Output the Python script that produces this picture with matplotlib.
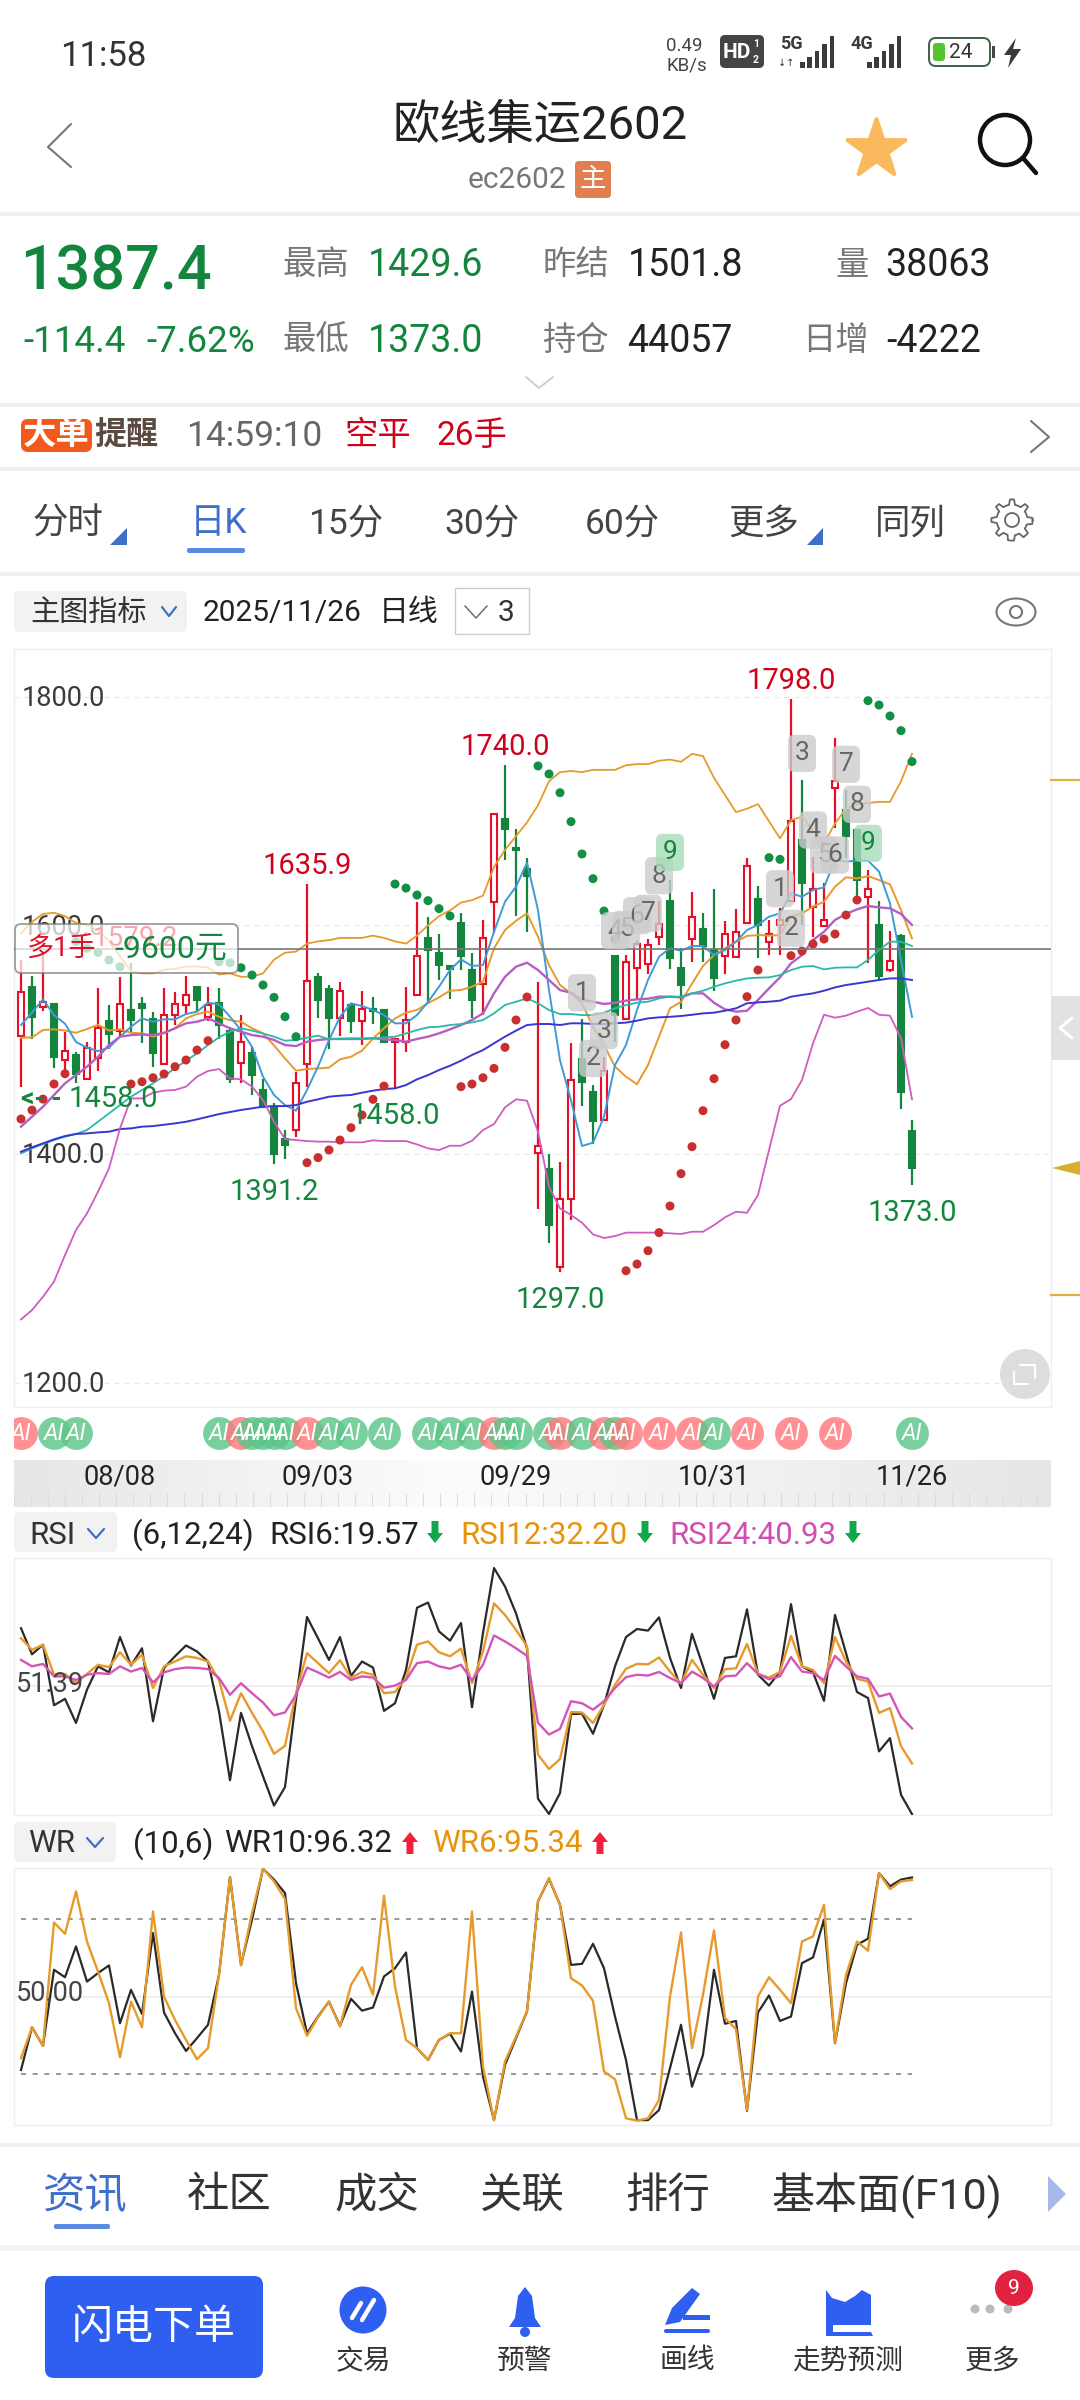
import matplotlib
matplotlib.use("Agg")

import matplotlib.pyplot as plt
import numpy as np
from matplotlib.patches import Circle, Ellipse, FancyBboxPatch, Polygon, Rectangle

plt.rcParams["font.family"] = ["Roboto", "Noto Sans CJK SC", "DejaVu Sans"]


# ==================================================
# DATA
# ==================================================

opens = [
    1503, 1546, 1529, 1531, 1482, 1487, 1466, 1484, 1516, 1508,
    1526, 1531, 1518, 1479, 1522, 1530, 1546, 1520, 1532, 1508,
    1480, 1488, 1456, 1441, 1413, 1421, 1479, 1555, 1544, 1519,
    1530, 1516, 1527, 1526, 1498, 1498, 1539, 1589, 1576, 1564,
    1602, 1561, 1549, 1620, 1693, 1668, 1649, 1401, 1387, 1301,
    1361, 1483, 1454, 1430, 1573, 1518, 1563, 1566, 1590, 1621,
    1563, 1588, 1597, 1578, 1573, 1572, 1602, 1623, 1585, 1600,
    1621, 1675, 1616, 1599, 1720, 1701, 1683, 1625, 1600, 1561,
    1591, 1420,
]
highs = [
    1570, 1556, 1575, 1531, 1507, 1489, 1498, 1545, 1530, 1555,
    1567, 1537, 1524, 1545, 1542, 1556, 1546, 1546, 1545, 1511,
    1522, 1494, 1466, 1445, 1421, 1472, 1635.9, 1558, 1548, 1550,
    1532, 1543, 1537, 1526, 1501, 1546, 1620, 1607, 1592, 1565,
    1611, 1576, 1605, 1698, 1740, 1684, 1659, 1550, 1400, 1393,
    1497, 1518, 1460, 1485, 1573, 1574, 1586, 1588, 1621, 1640,
    1580, 1629, 1611, 1632, 1604, 1614, 1659, 1634, 1605, 1615,
    1798, 1727, 1660, 1637, 1764, 1718, 1683, 1648, 1621, 1595,
    1592, 1429.6,
]
lows = [
    1459, 1501, 1525, 1475, 1470, 1462, 1465, 1473, 1492, 1503,
    1507, 1497, 1476, 1478, 1513, 1522, 1524, 1516, 1501, 1462,
    1462, 1452, 1440, 1391.2, 1396, 1415, 1459, 1519, 1492, 1503,
    1506, 1495, 1514, 1497, 1458, 1489, 1538, 1533, 1552, 1536,
    1561, 1519, 1522, 1593, 1657, 1608, 1594, 1352, 1322, 1297,
    1342, 1442, 1409, 1430, 1498, 1518, 1536, 1557, 1583, 1562,
    1527, 1568, 1568, 1543, 1557, 1572, 1601, 1571, 1574, 1574,
    1620.7, 1600, 1590, 1599, 1685, 1659, 1624, 1567, 1551, 1559,
    1439, 1373,
]
closes = [
    1542, 1520, 1533, 1485, 1490, 1470, 1493, 1510, 1505, 1531,
    1517, 1528, 1488, 1522, 1531, 1539, 1535, 1530, 1513, 1466,
    1498, 1469, 1441, 1400, 1408, 1462, 1551, 1535, 1519, 1543,
    1516, 1527, 1525, 1498, 1500.5, 1517, 1573, 1578, 1565, 1562,
    1573, 1535, 1589, 1697, 1684, 1666, 1643, 1407, 1338, 1361,
    1465, 1463, 1429, 1473, 1522, 1568, 1584, 1583, 1601, 1571,
    1548, 1607, 1582, 1554, 1592, 1594, 1652, 1600, 1592, 1605,
    1691, 1637, 1632, 1605, 1726, 1678, 1640, 1632, 1556, 1569,
    1454, 1387.4,
]

band_upper = [
    1593, 1603, 1610, 1611, 1608, 1602, 1600, 1596, 1586, 1573,
    1560, 1558, 1558, 1561, 1562, 1564, 1564, 1563, 1557, 1558,
    1555, 1555, 1558, 1570, 1576, 1577, 1584, 1586, 1587, 1589,
    1589, 1589, 1591, 1589, 1586, 1584, 1591, 1600, 1608, 1613,
    1620, 1622, 1626, 1651, 1666, 1678, 1690, 1705, 1726, 1734,
    1735, 1734, 1736, 1736, 1736, 1740, 1741, 1741, 1744, 1745,
    1743, 1750, 1748, 1729, 1714, 1699, 1702, 1706, 1691, 1676,
    1692, 1695, 1683, 1672, 1689, 1702, 1706, 1707, 1708, 1708,
    1726, 1750,
]
ma_orange = [
    1501.7, 1502, 1508.4, 1509, 1508, 1506, 1509.3, 1513, 1508, 1509,
    1506, 1505.5, 1502.6, 1505.5, 1510, 1518.6, 1522.4, 1524.5, 1520, 1517,
    1515.7, 1510, 1505.5, 1495, 1483.6, 1472.9, 1474.3, 1474.9, 1475.5, 1482.8,
    1485, 1490.4, 1501, 1510, 1518.6, 1523.6, 1526, 1531.8, 1537, 1542.8,
    1543.4, 1546.3, 1550.7, 1579.9, 1595.9, 1604, 1610.5, 1590, 1565.3, 1547.8,
    1540.5, 1531.8, 1511.3, 1495.3, 1476.4, 1467.6, 1461, 1477.8, 1502.6, 1527.4,
    1533, 1549, 1564.4, 1574, 1579.9, 1585.7, 1590.7, 1591.5, 1591, 1591.5,
    1607.6, 1610.5, 1616.3, 1620.7, 1633.8, 1642, 1641, 1643, 1639.6, 1635.8,
    1613.4, 1588.6,
]
ma_blue = [
    1512.8, 1523.6, 1535.3, 1521.5, 1514, 1498, 1493, 1490, 1493, 1502.6,
    1511.3, 1518.6, 1515.7, 1517.8, 1517.8, 1522.4, 1524.5, 1532.3, 1530.9, 1520,
    1508.4, 1493.9, 1467.6, 1451.6, 1442.8, 1437.9, 1456, 1476.4, 1499.7, 1520,
    1531.8, 1529.4, 1526, 1521.5, 1514.3, 1514.3, 1521.5, 1533, 1546.3, 1560.9,
    1570.2, 1564.4, 1565.3, 1594.4, 1620.7, 1633.8, 1654.8, 1613.4, 1543.4, 1482,
    1447, 1407, 1409.9, 1432.6, 1477.8, 1495.3, 1526, 1552.2, 1572.6, 1579.9,
    1577.8, 1581.9, 1581.9, 1574, 1578.4, 1585.7, 1595.9, 1600.3, 1607.6, 1610.5,
    1628, 1625, 1630.9, 1633.2, 1657.1, 1655.7, 1656.6, 1656.6, 1647, 1619.2,
    1569.7, 1520,
]
band_mid = [
    1423.9, 1432.6, 1441.4, 1451.6, 1461.8, 1469, 1476.4, 1485, 1495.3, 1502.6,
    1504, 1504.6, 1504, 1506, 1509.9, 1514.3, 1515.7, 1518.6, 1514.3, 1509.9,
    1507, 1504, 1502.6, 1499.7, 1495.3, 1494.4, 1498.2, 1499.7, 1500.6, 1500.6,
    1500.6, 1500.6, 1501.2, 1500.3, 1499.7, 1498.2, 1500.6, 1502.6, 1505.5, 1509,
    1512.8, 1517.2, 1523, 1540.5, 1555, 1563.8, 1567.3, 1560.9, 1552.2, 1543.4,
    1541, 1534.7, 1533.2, 1531.2, 1532.3, 1534.1, 1535.3, 1535.8, 1537.6, 1537.6,
    1537, 1540.5, 1540.5, 1532.3, 1526.5, 1524.5, 1525.3, 1534.7, 1544.9, 1554.5,
    1566.7, 1574, 1587.2, 1594.4, 1604.7, 1609.9, 1614, 1616.9, 1615.7, 1614.9,
    1609.9, 1600.3,
]
ma_teal = [
    1400.5, 1404.9, 1408.7, 1412.2, 1415.1, 1417.5, 1421, 1428.2, 1435.5, 1442.8,
    1450.1, 1455.9, 1461.8, 1468.2, 1474.9, 1481.6, 1488, 1495.3, 1502, 1507,
    1509.9, 1507.9, 1505.5, 1502.6, 1499.1, 1499.7, 1501.7, 1503.5, 1500.3, 1500.9,
    1501.2, 1501.2, 1501.2, 1502, 1502.6, 1505.5, 1508.4, 1510.8, 1511.3, 1512.8,
    1513.7, 1515.1, 1517.2, 1523, 1530.3, 1533.2, 1536.1, 1531.8, 1525.9, 1522.4,
    1522.4, 1521.5, 1521.5, 1523.6, 1527.4, 1530.3, 1532.3, 1533.2, 1536.1, 1537.6,
    1537.6, 1540.5, 1542.8, 1546.3, 1549.2, 1551.6, 1553.6, 1554.2, 1554.5, 1556.5,
    1560.9, 1563.8, 1564.4, 1561.5, 1562.9, 1563.2, 1563.2, 1569.7, 1578.4, 1585.7,
    1585.7, 1581.9,
]
ma_navy = [
    1402, 1405.8, 1409.3, 1412.8, 1415.7, 1417.5, 1418, 1418.9, 1419.5, 1421.8,
    1422.4, 1423.9, 1424.4, 1425.6, 1426.8, 1428.2, 1430.3, 1432.6, 1434.9, 1436.7,
    1438.5, 1439.9, 1441.4, 1441.9, 1441.9, 1442.8, 1445.7, 1447.8, 1450.1, 1451,
    1451.6, 1453.6, 1455.4, 1456.8, 1457.4, 1460.3, 1465.3, 1469, 1473.4, 1477.2,
    1481.6, 1486.6, 1490.9, 1496.8, 1502.6, 1507.9, 1512.8, 1513.7, 1513.7, 1512.8,
    1514.3, 1514.3, 1513.7, 1513.7, 1514.3, 1514.9, 1516.6, 1518.6, 1519.5, 1520,
    1520.7, 1521.8, 1523, 1523.6, 1525.3, 1527.4, 1531.8, 1532.6, 1533.2, 1534.1,
    1537.6, 1539.1, 1540.5, 1542.8, 1545.7, 1547.8, 1549.2, 1550.7, 1552.2, 1553.6,
    1553.6, 1552.2,
]
band_lower = [
    1255.3, 1263.5, 1275.2, 1288.3, 1311.6, 1333.5, 1348, 1367, 1387.4, 1422.4,
    1448.6, 1448.6, 1453.6, 1455.4, 1456, 1458.9, 1467.6, 1472.6, 1474.3, 1466.1,
    1465.3, 1458.9, 1447.2, 1428.2, 1413.1, 1412.2, 1411.3, 1410.8, 1410.8, 1410.2,
    1410.2, 1410.2, 1411.9, 1411.3, 1411.3, 1411.3, 1408.4, 1404.9, 1403.4, 1407.2,
    1407.2, 1411.6, 1420.9, 1426.2, 1440.8, 1447.8, 1446.6, 1419.5, 1371.4, 1352.4,
    1346.6, 1339.9, 1329.7, 1326.5, 1328.2, 1331.2, 1331.2, 1331.2, 1331.2, 1330.6,
    1330, 1332, 1332, 1337.8, 1344.6, 1349.5, 1348.6, 1364.1, 1403.4, 1442.2,
    1448, 1464.7, 1496.8, 1521.8, 1519.2, 1521, 1524.5, 1527.7, 1521.8, 1521,
    1501.2, 1447.8,
]
sar = [
    1430.6, 1438.4, 1448, 1461.2, 1470.2, 1585.7, 1579.9, 1576.4, 1569.7, 1563.8,
    1461.2, 1463.2, 1466.7, 1470, 1476.4, 1482.2, 1490.9, 1499.1, 1568.2, 1567.3,
    1562.9, 1556.5, 1547.8, 1537, 1520.1, 1502.6, 1392.4, 1396.8, 1403.5, 1412.2,
    1423, 1434.1, 1447.8, 1459.4, 1636.1, 1632.6, 1626.5, 1621.6, 1614.6, 1608.2,
    1458.9, 1461.2, 1466.7, 1474.9, 1493.3, 1517.2, 1537.3, 1739.4, 1732.4, 1716,
    1690.7, 1662.4, 1640.8, 1612.5, 1587.8, 1297.9, 1303.7, 1315.4, 1331.2, 1354.5,
    1382.8, 1406.4, 1437.9, 1465.9, 1495.6, 1517.2, 1537.6, 1560.9, 1659.2, 1657.7,
    1573.5, 1577.5, 1583.7, 1588, 1592.4, 1609, 1622.2, 1796.5, 1792.7, 1783.1,
    1770.3, 1743.2,
]

rsi6 = [
    65.9, 59.4, 61.8, 46.7, 48.3, 42.3, 50.6, 56.4, 54.9, 63.7,
    56.6, 60.9, 42.7, 56, 58.9, 61.6, 60.1, 57.6, 45.2, 28,
    44.8, 36.5, 29, 21.7, 26.3, 48.1, 68.7, 63.4, 58, 63.7,
    54, 57.6, 56.1, 45.3, 47.2, 55.5, 71, 72.3, 65.1, 62.8,
    67.2, 46.2, 64.7, 80.9, 76.3, 69.6, 60.9, 23.4, 19.6, 24.8,
    44.5, 44.6, 39.6, 46.8, 56.4, 63.7, 65.7, 65.3, 68.6, 58.5,
    51, 64.5, 56.4, 48.3, 58.5, 58.9, 70.6, 54.3, 51.6, 55.1,
    71.9, 56.4, 54.9, 47.8, 69.2, 59.7, 50, 48.5, 35.2, 38.5,
    24.4, 19.57,
]
rsi12 = [
    63.4, 60.5, 61.8, 54.3, 54.5, 52.2, 54.5, 56.8, 56.2, 59.9,
    56.8, 59.3, 51, 56.4, 57.6, 58.9, 58.5, 57.6, 53, 42.8,
    49.7, 44.8, 40.2, 34.6, 36.6, 49.7, 59.7, 57.2, 54.7, 57.9,
    53.5, 55, 54.3, 49.7, 50, 53.5, 61.8, 62.6, 59.9, 58.9,
    60.8, 52.2, 60.1, 72.1, 69.2, 65.5, 61.4, 34.4, 30.8, 33.3,
    45, 44.9, 42.3, 46.8, 51.8, 55.8, 57, 56.9, 58.6, 55.1,
    52.1, 58, 54.3, 51, 55.7, 55.9, 62, 54.5, 53.6, 55,
    64, 56.4, 55.5, 52.2, 63.7, 57.6, 53.3, 52.6, 44.8, 46,
    36.5, 32.2,
]
rsi24 = [
    58, 56.4, 57, 53.9, 53.9, 53, 54.3, 54.7, 54.5, 56.4,
    55.1, 56, 52.4, 54.9, 55.7, 56.1, 56, 55.7, 53.5, 49.3,
    52.2, 49.7, 47.4, 44.2, 44.9, 49.3, 56.1, 54.9, 53.6, 55,
    53, 53.9, 53.6, 51.1, 51.6, 53, 57.2, 57.6, 56.4, 55.8,
    56.8, 52.9, 56.8, 64.1, 62.6, 60.9, 59, 42.3, 39.4, 40.8,
    47.7, 47.2, 45.6, 47.7, 51, 53.7, 54.3, 54.1, 55, 53.5,
    52.2, 55.1, 53.5, 51.4, 53.9, 54.1, 57.2, 54.5, 53.2, 53.9,
    58.7, 55.1, 54.7, 53, 59, 56.4, 53.9, 53.3, 48.9, 49.6,
    43.8, 40.93,
]

wr10 = [
    21.4, 38, 30.8, 60.4, 57.5, 69.5, 55.8, 59.1, 62.1, 39.6,
    52.6, 43.2, 74.7, 43.8, 35.7, 28.8, 33.8, 39, 58.4, 96.5,
    62.3, 79.9, 99.7, 95.5, 90.2, 55.2, 35.7, 42.2, 48, 38.6,
    49.1, 44.5, 45.7, 57.8, 61, 67.1, 29.9, 25.3, 33.1, 35.5,
    28.6, 51.9, 18.8, 1.9, 23.4, 33.8, 44.2, 87, 95.8, 85.7,
    62.3, 62.7, 70.5, 61, 42.2, 25.3, 1.9, 1.9, 5.8, 22.1,
    39, 14.9, 27.3, 60.4, 39.4, 40.5, 5.5, 43.8, 50.4, 40.5,
    42.2, 63, 65.2, 79.9, 31.8, 55.2, 70.1, 72.5, 98, 92.9,
    95.5, 96.32,
]
wr6 = [
    26, 38, 30.8, 78.8, 74.4, 90.9, 71.4, 59.7, 47.4, 26.4,
    48, 38, 83.1, 50, 40.9, 33.1, 25.6, 29.9, 58.4, 96.5,
    62.1, 82.5, 99.7, 94.8, 87.9, 45.5, 34.7, 41.9, 48, 38.3,
    54.5, 61.4, 50.7, 89.2, 53.9, 33.1, 29.9, 25.3, 33.1, 35.7,
    35.7, 83.1, 22.7, 1.9, 24.7, 34.4, 44.2, 87, 96.1, 85.7,
    57.1, 54.3, 48.3, 20.8, 17.8, 2.6, 1.7, 2.6, 9.7, 50,
    74.9, 29.9, 50.7, 75.7, 41.6, 37.3, 5.8, 50, 57.5, 52.6,
    47.4, 71.4, 73.4, 85.7, 32, 58.4, 71.4, 67.8, 98, 91.8,
    94.8, 95.34,
]

price_ticks = [1800.0, 1600.0, 1400.0, 1200.0]
position_price = 1579.2

peak_index = [26, 44, 70]
trough_index = [23, 34, 49, 81]
trough_values = [1391.2, 1458.0, 1297.0, 1373.0]

td_index = [51, 52, 53, 54, 55, 56, 57, 58, 59, 69, 70, 71, 72, 73, 74, 75, 76, 77]
td_label = ["1", "2", "3", "4", "5", "6", "7", "8", "9", "1", "2", "3", "4", "5", "6", "7", "8", "9"]
td_price = [
    1541, 1483.6, 1507.9, 1595.3, 1596.5, 1608.4, 1610.5, 1643.4, 1663.8,
    1632, 1597.4, 1750.4, 1683.4, 1661.5, 1661.5, 1740.8, 1705.8, 1671.7,
]

ai_index = [
    0, 3, 5, 18, 20, 21, 22, 23, 24, 26, 28, 30, 33, 37, 39, 41, 43, 44, 45,
    48, 49, 51, 53, 54, 55, 58, 61, 63, 66, 70, 74, 81,
]
ai_side = [
    "r", "g", "g", "g", "r", "g", "g", "g", "g", "r", "g", "g", "g", "g", "g", "g", "r", "g", "g",
    "g", "r", "g", "r", "g", "r", "r", "r", "g", "r", "r", "r", "g",
]

date_index = [9, 27, 45, 63, 81]
date_labels = ["08/08", "09/03", "09/29", "10/31", "11/26"]

RED = "#e60f27"
GREEN = "#14853d"
ORANGE = "#e79a2b"
BLUE_UI = "#3f6fc9"
BAND = "#f0f0f0"


# ==================================================
# LAYOUT HELPERS
# ==================================================

fig = plt.figure(figsize=(10.8, 24), dpi=100, facecolor="white")


def panel_axes(left, top, right, bottom):
    ax = fig.add_axes([left / 1080, 1 - bottom / 2400, (right - left) / 1080, (bottom - top) / 2400])
    ax.set_xticks([])
    ax.set_yticks([])
    for spine in ax.spines.values():
        spine.set_color("#eeeeee")
        spine.set_linewidth(1.0)
    # same x scale in every panel: candle 0 at px 21, one candle = 11 px
    ax.set_xlim((left - 21) / 11, (right - 21) / 11)
    return ax


ui = fig.add_axes([0, 0, 1, 1], zorder=5)
ui.set_xlim(0, 1080)
ui.set_ylim(2400, 0)
ui.axis("off")


def label(x, y, s, size, color="#222222", ha="left", weight="normal", **kw):
    # text sits a little high with va=center, hence the +3
    ui.text(x, y + 3, s, fontsize=size, color=color, ha=ha, va="center", weight=weight, **kw)


def band(y, h=4, color=BAND):
    ui.add_patch(Rectangle((0, y), 1080, h, color=color, lw=0))


def round_box(x0, y0, x1, y1, r, fc, ec="none", lw=0, alpha=None):
    ui.add_patch(FancyBboxPatch(
        (x0, y0), x1 - x0, y1 - y0,
        boxstyle=f"round,pad=0,rounding_size={r}",
        fc=fc, ec=ec, lw=lw, alpha=alpha
    ))


def poly(points, color, alpha=None):
    ui.add_patch(Polygon(points, closed=True, fc=color, ec="none", alpha=alpha))


def stroke(xs, ys, color, lw=1.5):
    ui.plot(xs, ys, color=color, lw=lw, solid_capstyle="round", solid_joinstyle="round")


def fat_arrow(x, y, up, color):
    s = -1 if up else 1
    poly([
        (x - 3.5, y - s * 11), (x + 3.5, y - s * 11), (x + 3.5, y + s * 1),
        (x + 8, y + s * 1), (x, y + s * 11), (x - 8, y + s * 1), (x - 3.5, y + s * 1),
    ], color)


def signal_bars(x0, heights, base):
    for k, h in enumerate(heights):
        ui.add_patch(Rectangle((x0 + k * 7.4, base - h), 4.6, h, color="#3a3a3a", lw=0))


# ==================================================
# STATUS BAR AND HEADER
# ==================================================

label(60, 53, "11:58", 25, "#333333")
label(666, 43, "0.49", 13.5, "#444444")
label(666, 62, "KB/s", 13.5, "#444444")
round_box(720, 35, 764, 68, 5, "#444444")
label(723, 49, "HD", 15, "white", weight="bold")
label(753, 41, "1", 7.5, "white", weight="bold")
label(753, 57, "2", 7.5, "white", weight="bold")
label(780, 41, "5G", 13, "#3a3a3a", weight="bold")
label(778, 60, "↓↑", 7, "#3a3a3a", family=["DejaVu Sans"])
signal_bars(800, [6, 11, 17, 24, 32], 68)
label(850, 41, "4G", 13, "#3a3a3a", weight="bold")
signal_bars(867, [6, 11, 17, 24, 32], 68)
round_box(929, 38, 990, 66, 7, "white", "#3f5f45", 1.4)
round_box(933, 43, 945, 61, 3, "#55c32b")
label(961, 50, "24", 15, "#333333", ha="center")
ui.add_patch(Rectangle((992, 46), 2.5, 12, color="#444444", lw=0))
poly([(1016, 38), (1004, 55), (1011, 55), (1008, 68), (1021, 49), (1013, 49)], "#3a3a3a")

stroke([71, 48, 71], [124, 147, 167], "#777777", 1.5)
label(540, 123, "欧线集运2602", 34, "#222222", ha="center")
label(468, 177, "ec2602", 21.5, "#777777")
round_box(575, 161, 611, 198, 4, "#e08050")
label(593, 177, "主", 19, "white", ha="center")
ui.scatter([876], [149], marker="*", s=1900, color="#fbb95e", linewidths=3, edgecolors="#fbb95e", zorder=3)
ui.add_patch(Circle((1005, 140), 25, fc="none", ec="#111111", lw=3.2))
stroke([1023, 1036], [158, 173], "#111111", 3.2)
band(212)

label(21, 270, "1387.4", 44, GREEN, weight="medium")
label(282, 262, "最高", 24, "#777777")
label(368, 262, "1429.6", 27, GREEN)
label(542, 262, "昨结", 24, "#777777")
label(628, 262, "1501.8", 27, "#222222")
label(835, 262, "量", 24, "#777777")
label(885, 262, "38063", 27, "#222222")
label(23, 339, "-114.4", 26.5, GREEN)
label(146, 339, "-7.62%", 26.5, GREEN)
label(282, 338, "最低", 24, "#777777")
label(368, 338, "1373.0", 27, GREEN)
label(542, 338, "持仓", 24, "#777777")
label(627, 338, "44057", 27, "#222222")
label(802, 338, "日增", 24, "#777777")
label(886, 338, "-4222", 27, "#222222")
stroke([526, 539, 553], [377, 388, 377], "#cccccc", 1.3)
band(403)

round_box(21, 419, 92, 452, 7, "#f15a1c")
label(56, 432, "大单", 24, "white", ha="center", weight="bold")
label(94, 432, "提醒", 23, "#5a4a40", weight="bold")
label(186, 434, "14:59:10", 25.5, "#666666")
label(344, 433, "空平", 24, "#d0021b")
label(436, 433, "26手", 24, "#d0021b")
stroke([1031, 1049, 1031], [421, 437, 452], "#777777", 1.5)
band(467)

tabs = [("分时", 32), ("15分", 308), ("30分", 444), ("60分", 585), ("更多", 728), ("同列", 875)]
for tab_text, tab_x in tabs:
    label(tab_x, 521, tab_text, 25.5, "#444444")
label(190, 521, "日K", 25.5, BLUE_UI)
round_box(187, 548, 245, 553, 2, "#5b8be0")
poly([(127, 528), (127, 545), (110, 545)], BLUE_UI)
poly([(823, 528), (823, 545), (807, 545)], BLUE_UI)
gear_angles = np.linspace(0, 2 * np.pi, 65)
gear_radius = 18 + 2.6 * np.sign(np.cos(8 * gear_angles))
ui.plot(1012 + gear_radius * np.cos(gear_angles), 520 + gear_radius * np.sin(gear_angles), color="#666666", lw=1.3)
ui.add_patch(Circle((1012, 520), 7, fc="none", ec="#666666", lw=1.3))
band(572)

round_box(14, 591, 187, 632, 5, "#f2f2f2")
label(30, 610, "主图指标", 21, "#333333")
stroke([162, 169, 176], [607, 616, 607], BLUE_UI, 1.6)
label(203, 610, "2025/11/26", 21.5, "#222222")
label(379, 610, "日线", 21.5, "#222222")
ui.add_patch(Rectangle((455, 588), 74, 46, fc="white", ec="#cccccc", lw=1))
stroke([465, 476, 487], [606, 618, 606], "#777777", 1.2)
label(498, 610, "3", 21.5, "#333333")
ui.add_patch(Ellipse((1016, 612), 39, 27, fc="none", ec="#777777", lw=1.5))
ui.add_patch(Circle((1016, 612), 6, fc="none", ec="#777777", lw=1.5))


# ==================================================
# CANDLE PANEL
# ==================================================

ax = panel_axes(14, 649, 1051, 1407)
# 1800 at px 696.7, 228.7 px per 200 points
ax.set_ylim(1178.7, 1841.7)
idx = np.arange(len(closes))

for v in price_ticks:
    ax.axhline(v, color="#e8e8e8", lw=0.9, ls=(0, (4, 4)), zorder=1)
    ax.annotate(f"{v:.1f}", (0.007, v), xycoords=ax.get_yaxis_transform(), xytext=(0, -2),
                textcoords="offset pixels", fontsize=19.5, color="#3a3a3a", va="center", zorder=2)

for i in idx:
    up = closes[i] > opens[i]
    color = RED if up else GREEN
    top = max(opens[i], closes[i])
    bottom = min(opens[i], closes[i])
    ax.vlines(i, top, highs[i], color=color, lw=1.6, zorder=3)
    ax.vlines(i, lows[i], bottom, color=color, lw=1.6, zorder=3)
    ax.bar(i, top - bottom, bottom=bottom, width=0.58,
           facecolor="white" if up else color, edgecolor=color,
           linewidth=1.5, zorder=3)

ax.plot(idx, band_upper, color=ORANGE, lw=1.3, zorder=4)
ax.plot(idx, ma_orange, color=ORANGE, lw=1.4, zorder=4)
ax.plot(idx, ma_blue, color="#3f9bd8", lw=1.4, zorder=4)
ax.plot(idx, band_mid, color="#b45fc6", lw=1.7, zorder=4)
ax.plot(idx, ma_teal, color="#2ab8a8", lw=1.3, zorder=4)
ax.plot(idx, ma_navy, color="#3a36d0", lw=1.4, zorder=4)
ax.plot(idx, band_lower, color="#cf5cc0", lw=1.3, zorder=4)

sar_colors = ["#109044" if s > c else "#c8302f" for s, c in zip(sar, closes)]
ax.scatter(idx, sar, s=42, c=sar_colors, linewidths=0, zorder=5)

ax.axhline(position_price, color="#777777", lw=1.2, zorder=6)

for i in peak_index:
    ax.annotate(f"{highs[i]:.1f}", (i, highs[i]), xytext=(0, 18), textcoords="offset pixels",
                fontsize=21, color="#d0021b", ha="center", va="center", zorder=8)
for i, v in zip(trough_index, trough_values):
    ax.annotate(f"{v:.1f}", (i, v), xytext=(0, -28), textcoords="offset pixels",
                fontsize=21, color=GREEN, ha="center", va="center", zorder=8)

for i, s, v in zip(td_index, td_label, td_price):
    nine = s == "9"
    ax.text(i, v, s, fontsize=19, color=GREEN if nine else "#666666", ha="center", va="center", zorder=7,
            bbox=dict(boxstyle="round,pad=0.25", fc="#a6dcb8" if nine else "#cccccc", ec="none", alpha=0.8))

# position box and labels over the chart
round_box(15, 924, 238, 973, 6, "white", "#777777", 1.3, alpha=0.72)
label(27, 945, "多1手", 19.5, "#e0102a")
label(93, 936, "1579.2", 20, "#f5a8ad")
label(114, 946, "-9600元", 23, GREEN)
label(21, 1096, "<- -", 19, GREEN, weight="bold")
label(69, 1096, "1458.0", 21, GREEN)

ui.plot([1051, 1080], [780, 780], color="#e0b040", lw=1.6)
ui.plot([1051, 1080], [1295, 1295], color="#e0b040", lw=1.6)
poly([(1052, 1168), (1080, 1161), (1080, 1175)], "#d8b030")
ui.add_patch(Rectangle((1051, 996), 29, 64, color="#e2e2e2", lw=0))
stroke([1072, 1060, 1072], [1018, 1028, 1038], "white", 2.2)
ui.add_patch(Circle((1025, 1374), 25, color="#dddddd", lw=0))
stroke([1020, 1035, 1035], [1365, 1365, 1378], "white", 1.6)
stroke([1014, 1014, 1028], [1372, 1384, 1384], "white", 1.6)


# ==================================================
# AI MARKERS AND DATE STRIP
# ==================================================

ai_ax = panel_axes(14, 1414, 1051, 1452)
ai_ax.set_ylim(-1, 1)
ai_ax.axis("off")
for i, side in zip(ai_index, ai_side):
    ai_ax.scatter([i], [0], s=560, color="#5cc689" if side == "g" else "#ff787c", linewidths=0, alpha=0.82)
    ai_ax.text(i, 0, "AI", fontsize=16.5, color="white", ha="center", va="center", style="italic", clip_on=True)

strip = panel_axes(14, 1460, 1051, 1507)
strip.set_ylim(0, 1)
shade = np.interp(np.linspace(0, 1, 300), [0, 0.42, 1], [0.9, 0.985, 0.9]).reshape(1, -1)
strip.imshow(shade, extent=[*strip.get_xlim(), 0, 1], aspect="auto", cmap="gray", vmin=0, vmax=1, zorder=0)
strip.vlines(np.arange(strip.get_xlim()[0], strip.get_xlim()[1], 1.55), 0, 0.3, color="#dcdcdc", lw=0.8, zorder=1)
for i, s in zip(date_index, date_labels):
    strip.text(i, 0.64, s, fontsize=19.5, color="#222222", ha="center", va="center", zorder=2)
for spine in strip.spines.values():
    spine.set_visible(False)


# ==================================================
# RSI PANEL
# ==================================================

round_box(14, 1512, 117, 1552, 5, "#f2f2f2")
label(29, 1532, "RSI", 22.5, "#333333")
stroke([88, 96, 104], [1529, 1538, 1529], BLUE_UI, 1.6)
label(132, 1532, "(6,12,24)", 22.5, "#222222")
label(269, 1532, "RSI6:19.57", 22.5, "#222222")
fat_arrow(435, 1532, False, "#10a84a")
label(460, 1532, "RSI12:32.20", 22.5, "#e8930c")
fat_arrow(645, 1532, False, "#10a84a")
label(669, 1532, "RSI24:40.93", 22.5, "#d04fb0")
fat_arrow(853, 1532, False, "#10a84a")

rsi_ax = panel_axes(14, 1558, 1051, 1815)
rsi_ax.set_ylim(19.35, 83.4)
rsi_ax.axhline(51.39, color="#eeeeee", lw=1.2, zorder=1)
rsi_ax.plot(idx, rsi6, color="#2a2a2a", lw=1.6, zorder=3)
rsi_ax.plot(idx, rsi12, color=ORANGE, lw=1.7, zorder=4)
rsi_ax.plot(idx, rsi24, color="#d455b8", lw=1.7, zorder=5)
rsi_ax.text(0.002, 51.9, "51.39", transform=rsi_ax.get_yaxis_transform(), fontsize=19.5,
            color="#444444", va="center", zorder=6)


# ==================================================
# WR PANEL
# ==================================================

round_box(14, 1822, 116, 1862, 5, "#f2f2f2")
label(28, 1841, "WR", 22.5, "#333333")
stroke([87, 95, 103], [1838, 1847, 1838], BLUE_UI, 1.6)
label(133, 1841, "(10,6)", 22.5, "#222222")
label(224, 1841, "WR10:96.32", 22.5, "#222222")
fat_arrow(410, 1843, True, "#f0213a")
label(432, 1841, "WR6:95.34", 22.5, "#e8930c")
fat_arrow(600, 1843, True, "#f0213a")

wr_ax = panel_axes(14, 1868, 1051, 2125)
wr_ax.set_ylim(0, 100)
wr_ax.axhline(50, color="#eeeeee", lw=1.2, zorder=1)
for level in [20, 80]:
    wr_ax.plot([0, 81], [level, level], color="#888888", lw=1.2, ls=(0, (3, 4)), zorder=2)
wr_ax.plot(idx, wr10, color="#2a2a2a", lw=1.6, zorder=3)
wr_ax.plot(idx, wr6, color=ORANGE, lw=1.7, zorder=4)
wr_ax.text(0.002, 51, "50.00", transform=wr_ax.get_yaxis_transform(), fontsize=19.5,
           color="#444444", va="center", zorder=6)


# ==================================================
# BOTTOM TABS AND TOOLBAR
# ==================================================

band(2143)
label(43, 2193, "资讯", 30.5, BLUE_UI)
round_box(54, 2224, 110, 2229, 2, "#5b8be0")
for tab_text, tab_x in [("社区", 187), ("成交", 334), ("关联", 480), ("排行", 625)]:
    label(tab_x, 2193, tab_text, 30.5, "#333333")
label(771, 2193, "基本面(F10)", 31, "#333333")
poly([(1048, 2176), (1066, 2194), (1048, 2212)], "#a8b8e8")
band(2245, 6, "#f3f3f3")

round_box(45, 2276, 263, 2378, 9, "#2f5ff0")
label(154, 2325, "闪电下单", 29.5, "white", ha="center", weight="medium")

ICON = "#2f5ff0"
ui.add_patch(Circle((363, 2310), 23.5, color=ICON, lw=0))
stroke([352, 361], [2318, 2303], "white", 3.2)
stroke([362, 374], [2320, 2300], "white", 3.2)
label(363, 2358, "交易", 20, "#333333", ha="center")

poly([(525, 2287), (532, 2296), (535, 2318), (541, 2327), (509, 2327), (515, 2318), (518, 2296)], ICON)
ui.add_patch(Circle((525, 2332), 5, color=ICON, lw=0))
label(525, 2358, "预警", 20, "#333333", ha="center")

poly([(692, 2288), (700, 2294), (680, 2322), (665, 2325), (672, 2308)], ICON)
ui.add_patch(Rectangle((683, 2315), 27, 5, color=ICON, lw=0))
round_box(664, 2329, 710, 2333, 2, ICON)
label(687, 2358, "画线", 20, "#333333", ha="center")

poly([(826, 2290), (832, 2298), (845, 2302), (855, 2296), (862, 2290), (871, 2295), (871, 2325),
      (833, 2325), (833, 2332), (871, 2332), (873, 2336), (826, 2336)], ICON)
label(848, 2358, "走势预测", 20, "#333333", ha="center")

for dot_x in [975, 990, 1008]:
    ui.add_patch(Circle((dot_x, 2309), 4.5, color="#bbbbbb", lw=0))
ui.add_patch(Ellipse((1014, 2288), 38, 36, color="#e0213f", lw=0))
label(1014, 2285, "9", 15, "white", ha="center")
label(992, 2358, "更多", 20, "#333333", ha="center")


# ==================================================
# SAVE
# ==================================================

fig.savefig("out.png", dpi=100)
plt.close(fig)
